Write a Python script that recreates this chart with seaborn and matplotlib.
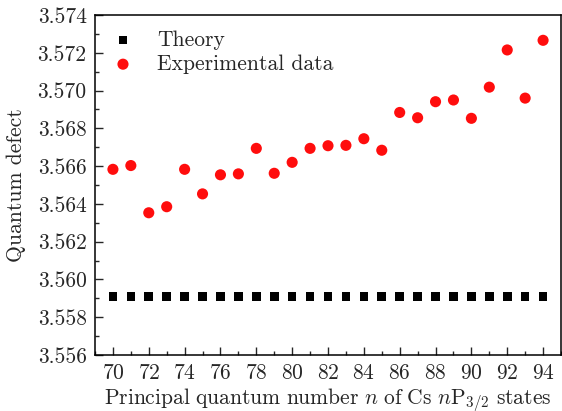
import matplotlib
matplotlib.use("Agg")
import matplotlib.pyplot as plt
import seaborn as sns
import pandas as pd
from matplotlib.ticker import MultipleLocator, FormatStrFormatter

n_values = list(range(70, 95))
theory = [3.5591] * 25
experimental = [3.56583, 3.56603, 3.56353, 3.56385, 3.56583, 3.56453, 3.56554, 3.56559,
                3.56694, 3.56562, 3.56620, 3.56694, 3.56708, 3.56710, 3.56745, 3.56684,
                3.56884, 3.56856, 3.56941, 3.56950, 3.56853, 3.57018, 3.57215, 3.56960,
                3.57266]

sns.set_theme(style="ticks")
plt.rcParams.update({
    "font.family": ["cmr10", "DejaVu Serif"],
    "mathtext.fontset": "cm",
    "axes.formatter.use_mathtext": True,
    "font.size": 15.5,
    "axes.linewidth": 1.1,
    "axes.edgecolor": "black",
    "xtick.direction": "in",
    "ytick.direction": "in",
})

df_t = pd.DataFrame({"n": n_values, "mu": theory})
df_e = pd.DataFrame({"n": n_values, "mu": experimental})

fig = plt.figure(figsize=(5.62, 4.11), dpi=100)
ax = fig.add_axes([95/562, 1-355/411, (561-95)/562, (355-15)/411])

sns.scatterplot(data=df_t, x="n", y="mu", ax=ax, marker="s", s=38, color="black",
                edgecolor="none", label="Theory")
sns.scatterplot(data=df_e, x="n", y="mu", ax=ax, marker="o", s=64, color="#ff0d0d",
                edgecolor="none", label="Experimental data")

ax.set_xlim(69.0, 95.0)
ax.set_ylim(3.556, 3.574)
ax.xaxis.set_major_locator(MultipleLocator(2))
ax.xaxis.set_minor_locator(MultipleLocator(1))
ax.yaxis.set_major_locator(MultipleLocator(0.002))
ax.yaxis.set_minor_locator(MultipleLocator(0.001))
ax.yaxis.set_major_formatter(FormatStrFormatter("%.3f"))
ax.tick_params(which="major", length=5.5, width=1.0, labelsize=15.5, pad=6)
ax.tick_params(which="minor", length=3, width=1.0)
ax.tick_params(axis="both", which="both", top=False, right=False)

ax.set_xlabel(r"$\mathrm{Principal\ quantum\ number\ }n\mathrm{\ of\ Cs\ }n\mathrm{P}_{3/2}\mathrm{\ states}$",
              fontsize=15.5, labelpad=3)
ax.set_ylabel("Quantum defect", fontsize=15.5, labelpad=8)

leg = ax.legend(loc="upper left", frameon=False, fontsize=15.5, handletextpad=1.0,
                handlelength=1.2, borderaxespad=0.3, labelspacing=0.22,
                bbox_to_anchor=(0.0, 1.0))

fig.savefig("out.png", dpi=100)
